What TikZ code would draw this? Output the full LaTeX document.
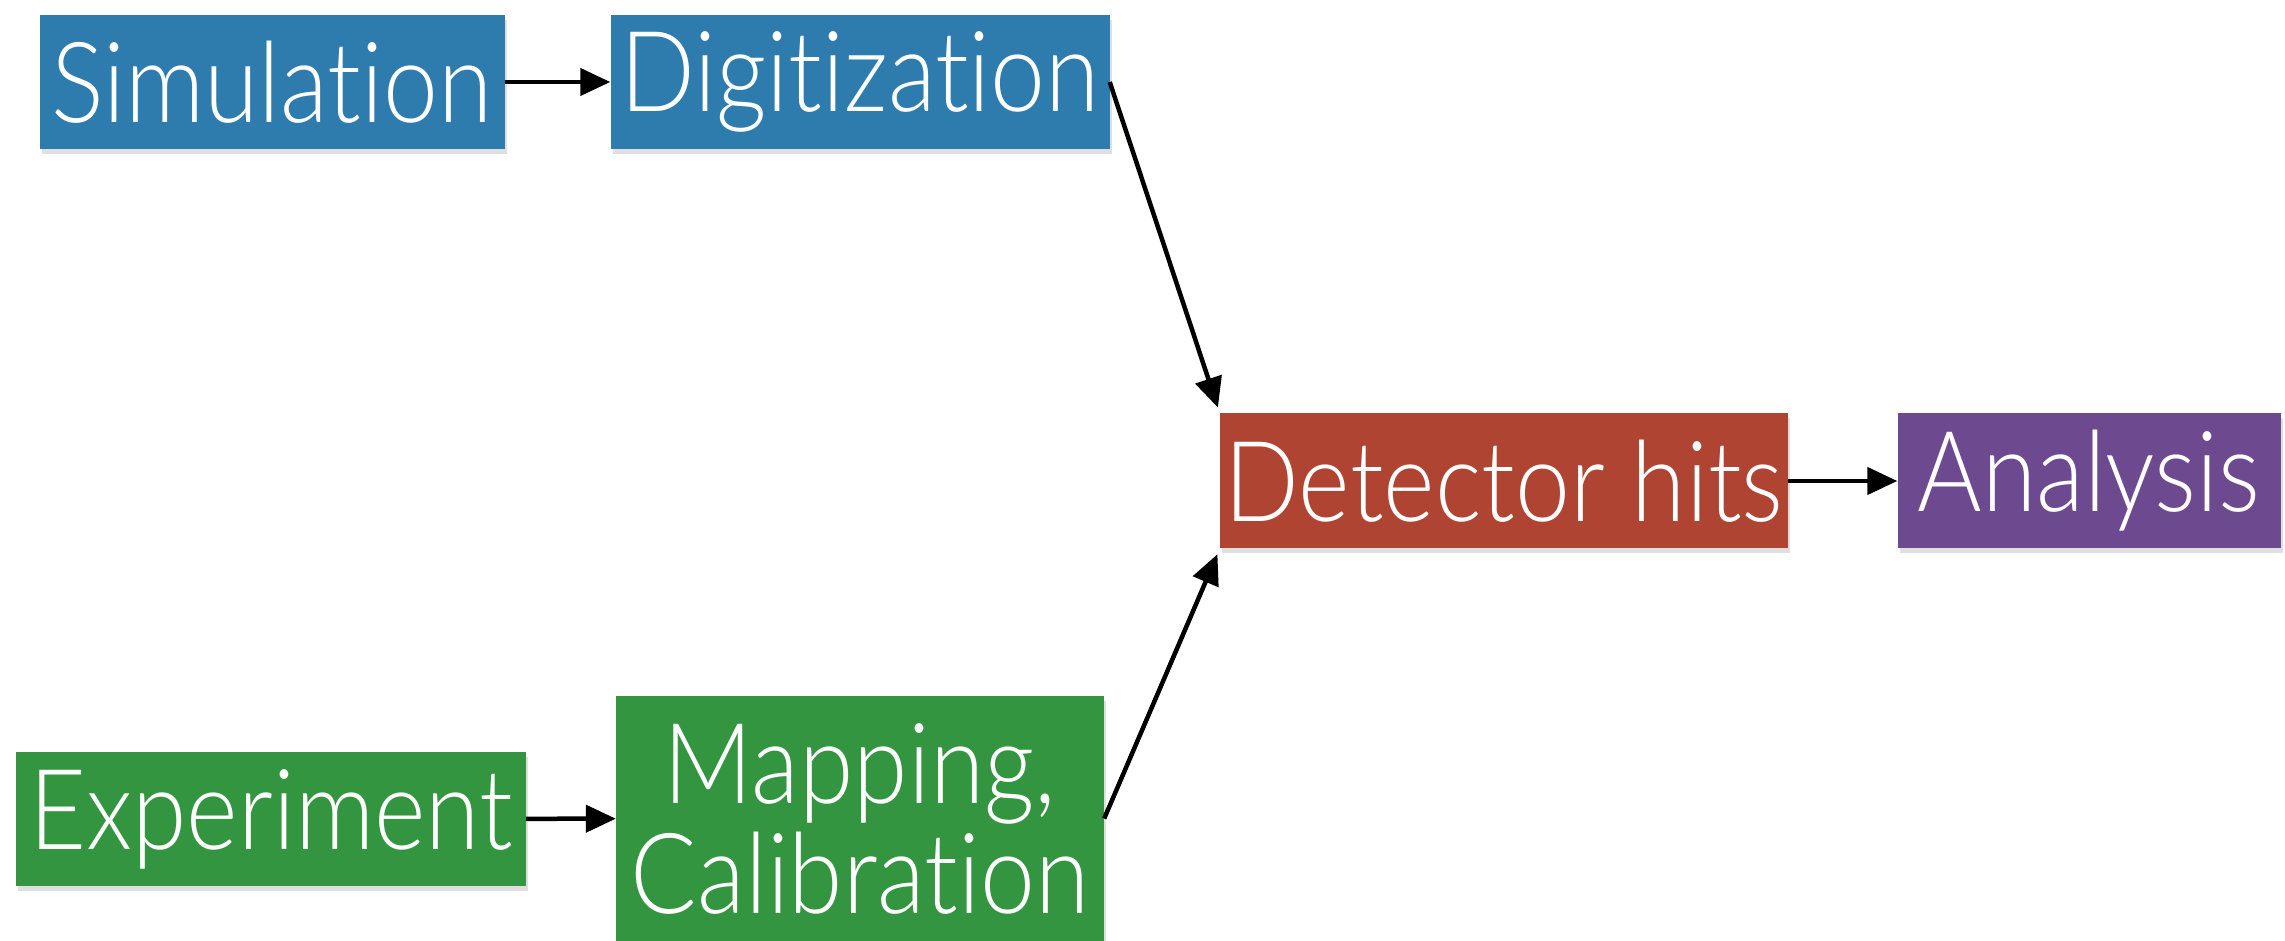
\documentclass[tikz,border=0pt]{standalone}
\usepackage{fontspec}
\setmainfont{Lato}[UprightFont=* Light, FakeStretch=0.88, Ligatures=NoCommon]
\usetikzlibrary{arrows.meta,shadows}
\definecolor{simblue}{HTML}{2E7BAE}
\definecolor{detred}{HTML}{B04433}
\definecolor{anapurple}{HTML}{6D4A90}
\definecolor{expgreen}{HTML}{33953F}
\begin{document}
\begin{tikzpicture}[x=1pt,y=1pt,
  stepbox/.style={rectangle, inner sep=0pt, text=white, align=center,
    font=\fontsize{112}{110}\selectfont, minimum height=134pt,
    drop shadow={opacity=0.25, shadow xshift=2pt, shadow yshift=-5pt}},
  flow/.style={draw=black, line width=4.5pt, -{Triangle[length=30pt,width=27pt]}}]
\useasboundingbox (0,0) rectangle (2285,941);
\node[stepbox, fill=simblue, minimum width=465pt] (sim) at (272,859) {Simulation};
\node[stepbox, fill=simblue, minimum width=499pt] (dig) at (860,859) {Digitization};
\node[stepbox, fill=detred, minimum width=568pt, minimum height=135pt] (det) at (1504,460) {Detector hits};
\node[stepbox, fill=anapurple, minimum width=383pt, minimum height=135pt] (ana) at (2089,460) {Analysis};
\node[stepbox, fill=expgreen, minimum width=510pt] (exp) at (271,122) {Experiment};
\node[stepbox, fill=expgreen, minimum width=488pt, minimum height=245pt] (map) at (860,122.5) {Mapping,\\Calibration};
\draw[flow] (sim) -- (dig);
\draw[flow] (exp) -- (map);
\draw[flow] (det) -- (ana);
\draw[flow, shorten >=6pt] (dig.east) -- (det.north west);
\draw[flow, shorten >=6pt] (map.east) -- (det.south west);
\end{tikzpicture}
\end{document}
